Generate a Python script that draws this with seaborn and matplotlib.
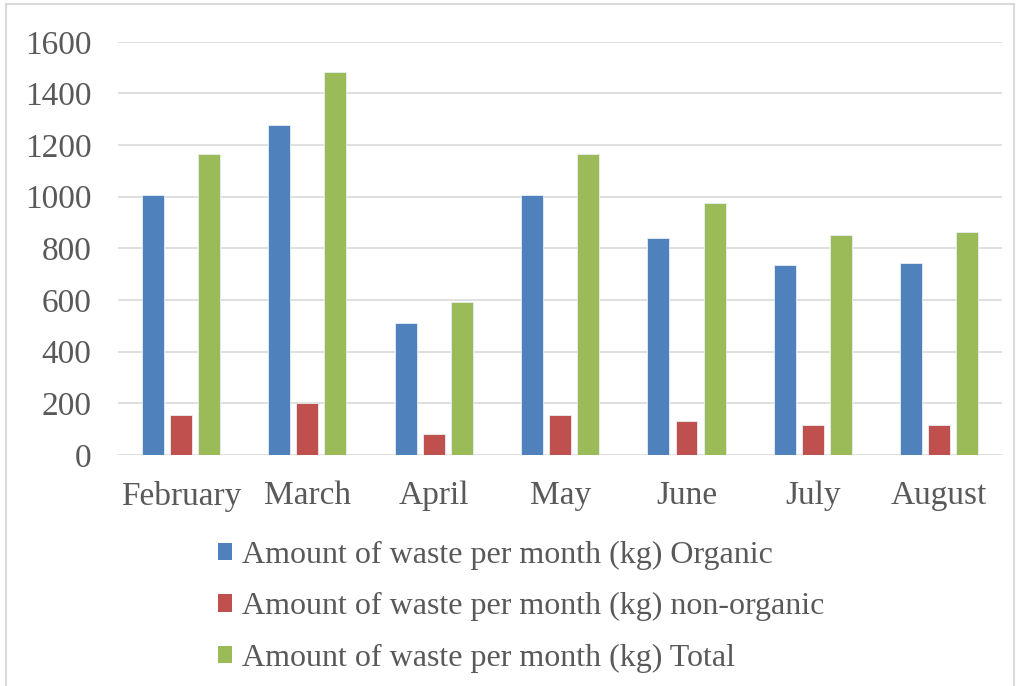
import pandas as pd
import matplotlib.pyplot as plt
import matplotlib.patches as mpatches
import seaborn as sns

months = ['February', 'March', 'April', 'May', 'June', 'July', 'August']
organic = [1005, 1279, 512, 1005, 841, 737, 742]
non_organic = [155, 200, 80, 155, 132, 115, 115]
total = [1164, 1483, 592, 1164, 976, 852, 862]

series_names = [
    'Amount of waste per month (kg) Organic',
    'Amount of waste per month (kg) non-organic',
    'Amount of waste per month (kg) Total',
]
colors = ['#4F81BD', '#C0504D', '#9BBB59']


def build_frame():
    rows = []
    for name, vals in zip(series_names, [organic, non_organic, total]):
        for m, v in zip(months, vals):
            rows.append({'Month': m, 'Series': name, 'Value': v})
    return pd.DataFrame(rows)


def main():
    df = build_frame()

    sns.set_theme(style='white')
    plt.rcParams['font.family'] = ['Liberation Serif', 'DejaVu Serif']

    fig = plt.figure(figsize=(10.24, 6.86), dpi=100)
    ax = fig.add_axes([0.115, 0.337, 0.864, 0.602])

    sns.barplot(data=df, x='Month', y='Value', hue='Series', order=months,
                hue_order=series_names, palette=colors, saturation=1,
                width=0.667, gap=0.22, edgecolor='#E8EEF6', linewidth=0.6,
                ax=ax, legend=False)

    ax.set_ylim(0, 1600)
    ax.set_yticks(range(0, 1601, 200))
    ax.set_xlim(-0.5, len(months) - 0.5)
    ax.yaxis.grid(True, color='#D9D9D9', linewidth=1.2)
    ax.set_axisbelow(True)
    for s in ax.spines.values():
        s.set_visible(False)
    ax.set_xlabel('')
    ax.set_ylabel('')
    ax.tick_params(axis='y', length=0, pad=19, labelsize=24, labelcolor='#595959')
    ax.tick_params(axis='x', length=0, pad=18.5, labelsize=24, labelcolor='#595959')

    handles = [mpatches.Patch(facecolor=c, edgecolor='none') for c in colors]
    fig.legend(handles, series_names, loc='upper left',
               bbox_to_anchor=(0.197, 0.235), frameon=False, fontsize=23,
               handlelength=0.45, handleheight=0.45, handletextpad=0.3,
               labelspacing=0.70, labelcolor='#595959', borderpad=0)

    border = mpatches.Rectangle((0.006, -0.01), 0.984, 1.004, transform=fig.transFigure,
                                fill=False, edgecolor='#D9D9D9', linewidth=1.5)
    fig.add_artist(border)

    fig.savefig('out.png', dpi=100)


if __name__ == '__main__':
    main()
